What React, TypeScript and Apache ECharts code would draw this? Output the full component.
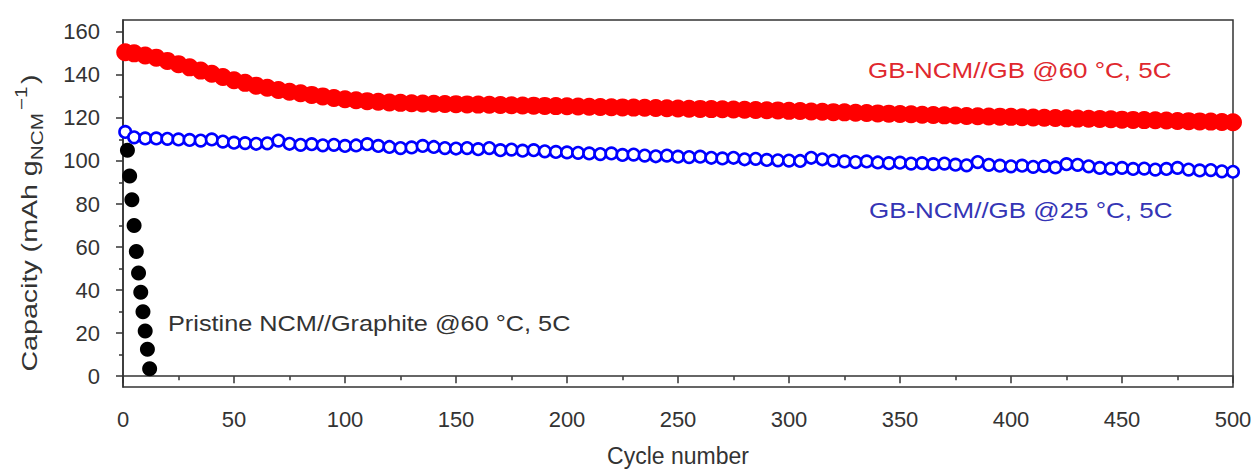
import React, { useEffect, useRef } from "react";
import * as echarts from "echarts";

const cycles = [1, 5, 10, 15, 20, 25, 30, 35, 40, 45, 50, 55, 60, 65, 70, 75, 80, 85, 90, 95, 100, 105, 110, 115, 120, 125, 130, 135, 140, 145, 150, 155, 160, 165, 170, 175, 180, 185, 190, 195, 200, 205, 210, 215, 220, 225, 230, 235, 240, 245, 250, 255, 260, 265, 270, 275, 280, 285, 290, 295, 300, 305, 310, 315, 320, 325, 330, 335, 340, 345, 350, 355, 360, 365, 370, 375, 380, 385, 390, 395, 400, 405, 410, 415, 420, 425, 430, 435, 440, 445, 450, 455, 460, 465, 470, 475, 480, 485, 490, 495, 500];

const gb60 = [150.5, 150, 149, 148, 146.5, 145, 143.5, 142, 140.5, 139, 137.5,
  136.3, 135, 134, 133, 132.2, 131.5, 130.7, 130, 129.3, 128.7,
  128.2, 127.8, 127.5, 127.2, 127, 126.8, 126.7, 126.6, 126.5, 126.4,
  126.3, 126.2, 126.1, 126, 125.9, 125.8, 125.7, 125.6, 125.5, 125.4,
  125.3, 125.2, 125.1, 125, 124.9, 124.8, 124.7, 124.6, 124.5, 124.4,
  124.3, 124.2, 124.1, 124, 123.9, 123.8, 123.7, 123.6, 123.5, 123.3,
  123.2, 123, 122.9, 122.7, 122.6, 122.4, 122.3, 122.1, 122, 121.8,
  121.7, 121.5, 121.4, 121.2, 121.1, 120.9, 120.8, 120.7, 120.6, 120.5,
  120.3, 120.2, 120.1, 120, 119.8, 119.7, 119.6, 119.5, 119.4, 119.2,
  119.1, 119, 118.9, 118.8, 118.6, 118.5, 118.4, 118.3, 118.1, 118];

const gb25 = [113.5, 111, 110.5, 110.5, 110.3, 110, 109.8, 109.5, 110, 109, 108.5,
  108.3, 108, 108.2, 109.5, 108, 107.5, 107.8, 107.3, 107.5, 107,
  107.2, 107.8, 107, 106.5, 106, 106.3, 107, 106.5, 106, 105.8,
  106, 105.5, 106, 105, 105.3, 104.8, 105, 104.5, 104.2, 104,
  103.8, 103.5, 103.2, 103.5, 102.8, 103, 102.5, 102.2, 102.5, 102,
  101.8, 102, 101.5, 101.2, 101.5, 100.8, 101, 100.5, 100.3, 100.2,
  100, 101.5, 100.8, 100.2, 99.8, 99.5, 99.8, 99.3, 99, 99.2,
  98.8, 99, 98.5, 98.8, 98.3, 98, 99.5, 98.2, 97.8, 97.5,
  97.8, 97.3, 97.6, 97, 98.5, 98.2, 97.5, 96.8, 96.5, 96.8,
  96.3, 96.5, 96, 96.3, 96.8, 96, 95.6, 95.8, 95.2, 95];

const pristineCycles = [2, 3, 4, 5, 6, 7, 8, 9, 10, 11, 12];
const pristine = [105, 93, 82, 70, 58, 48, 39, 30, 21, 12.5, 3.5];

const yMajorTicks = [0, 20, 40, 60, 80, 100, 120, 140, 160];
const yMinorTicks = [10, 30, 50, 70, 90, 110, 130, 150];

const FONT = "'Liberation Sans', Arial, Helvetica, sans-serif";
const AX = "#333";

export default function App() {
  const ref = useRef<HTMLDivElement>(null);
  useEffect(() => {
    document.body.style.margin = "0";
    if (!ref.current) return;
    const chart = echarts.init(ref.current, null, { renderer: "svg" });
    const axisLine = { show: true, lineStyle: { color: AX, width: 1.5 } };
    chart.setOption({
      animation: false,
      backgroundColor: "#fff",
      textStyle: { fontFamily: FONT },
      grid: { left: 123, right: 26, top: 20, bottom: 81, show: true, borderColor: AX, borderWidth: 1.5 },
      xAxis: {
        type: "value", min: 0, max: 500, interval: 50,
        axisLine,
        axisTick: { show: true, length: 7, lineStyle: { color: AX, width: 1.5 } },
        minorTick: { show: true, splitNumber: 2, length: 4, lineStyle: { color: AX, width: 1.5 } },
        axisLabel: { fontSize: 22, color: AX, margin: 21, fontFamily: FONT },
        splitLine: { show: false },
        name: "Cycle number", nameLocation: "middle", nameGap: 57,
        nameTextStyle: { fontSize: 23, color: AX, fontFamily: FONT },
      },
      yAxis: [
        {
          type: "value", min: -5, max: 165.5,
          axisLine,
          axisTick: { show: true, length: 7, customValues: yMajorTicks, lineStyle: { color: AX, width: 1.5 } },
          axisLabel: { fontSize: 22, color: AX, margin: 23, customValues: yMajorTicks, fontFamily: FONT },
          splitLine: { show: false },
        },
        {
          type: "value", min: -5, max: 165.5, position: "left",
          axisLine: { show: false },
          axisTick: { show: true, length: 4, customValues: yMinorTicks, lineStyle: { color: AX, width: 1.5 } },
          axisLabel: { show: false },
          splitLine: { show: false },
        },
      ],
      series: [
        {
          type: "scatter", name: "Pristine", yAxisIndex: 0,
          data: pristineCycles.map((c, i) => [c, pristine[i]]),
          symbol: "circle", symbolSize: 15,
          itemStyle: { color: "#000", opacity: 1 },
        },
        {
          type: "scatter", name: "GB60", yAxisIndex: 0,
          data: cycles.map((c, i) => [c, gb60[i]]),
          symbol: "circle", symbolSize: 18,
          itemStyle: { color: "#ff0000", opacity: 1 },
        },
        {
          type: "scatter", name: "GB25", yAxisIndex: 0,
          data: cycles.map((c, i) => [c, gb25[i]]),
          symbol: "circle", symbolSize: 11.5,
          itemStyle: { color: "#fff", borderColor: "#0000ff", borderWidth: 2.6, opacity: 1 },
        },
      ],
      graphic: [
        {
          type: "text", x: 868, y: 70, scaleX: 1.18,
          style: { text: "GB-NCM//GB @60 °C, 5C", fontSize: 22, fill: "#e0282e", fontFamily: FONT, align: "left", verticalAlign: "middle" },
        },
        {
          type: "text", x: 869, y: 210, scaleX: 1.18,
          style: { text: "GB-NCM//GB @25 °C, 5C", fontSize: 22, fill: "#3535b5", fontFamily: FONT, align: "left", verticalAlign: "middle" },
        },
        {
          type: "text", x: 168, y: 324, scaleX: 1.15,
          style: { text: "Pristine NCM//Graphite @60 °C, 5C", fontSize: 22, fill: "#333", fontFamily: FONT, align: "left", verticalAlign: "middle" },
        },
        {
          type: "text", x: 29, y: 223, rotation: Math.PI / 2, scaleX: 1.3,
          style: {
            text: "{a|Capacity (mAh g}{b|NCM}{c|−1}{a|)}",
            fill: "#333", fontFamily: FONT, align: "center", verticalAlign: "middle",
            rich: {
              a: { fontSize: 22, lineHeight: 32, verticalAlign: "middle", fill: "#333", fontFamily: FONT },
              b: { fontSize: 16, lineHeight: 16, verticalAlign: "bottom", fill: "#333", fontFamily: FONT },
              c: { fontSize: 16, lineHeight: 16, verticalAlign: "top", fill: "#333", fontFamily: FONT, padding: [0, 2, 0, 2] },
            },
          },
        },
      ],
    });
    return () => chart.dispose();
  }, []);
  return <div ref={ref} style={{ width: 1259, height: 472 }} />;
}
